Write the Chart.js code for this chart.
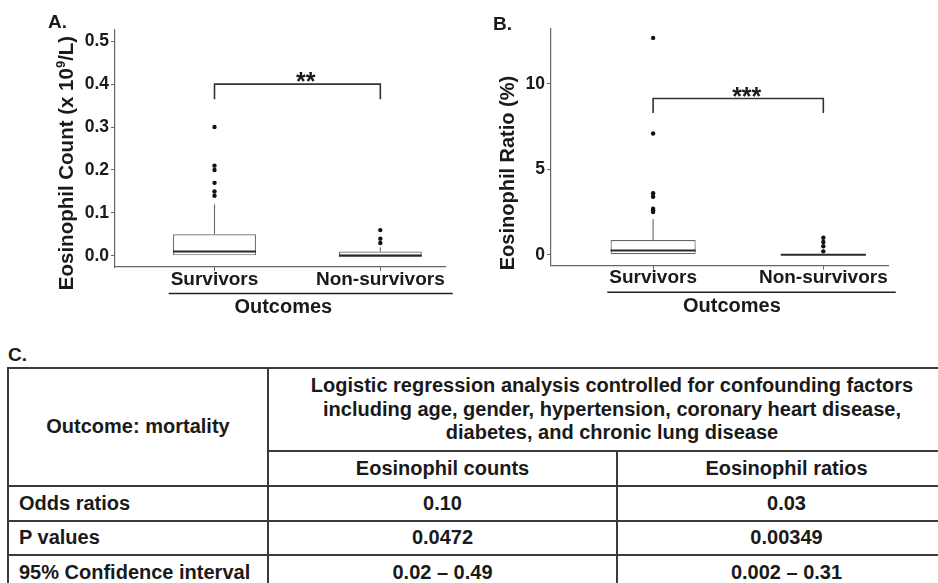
<!DOCTYPE html>
<html>
<head>
<meta charset="utf-8">
<script src="https://cdn.jsdelivr.net/npm/chart.js@4.4.1/dist/chart.umd.min.js"></script>
<style>
  html, body { margin: 0; padding: 0; background: #fff; overflow: hidden; }
  #wrap { position: relative; width: 938px; height: 583px; overflow: hidden;
          font-family: "Liberation Sans", Arial, sans-serif; color: #1a1a1a; }
  #boxA { position: absolute; left: 0; top: 0; }
  #boxB { position: absolute; left: 470px; top: 0; }
  .panel { position: absolute; font-weight: bold; font-size: 19px; line-height: 20px; }
  #tbl { position: absolute; left: 7px; top: 367px; width: 948px; border-collapse: collapse;
         table-layout: fixed; font-weight: bold; font-size: 20px; line-height: 23.5px; }
  #tbl td { border: 2px solid #3a3a3a; padding: 0 10px; text-align: center; vertical-align: middle; }
  #tbl td.rowhead { text-align: left; }
</style>
</head>
<body>
<div id="wrap">
  <canvas id="boxA" width="465" height="330"></canvas>
  <canvas id="boxB" width="468" height="330"></canvas>
  <div class="panel" style="left:48px; top:12px;">A.</div>
  <div class="panel" style="left:493px; top:14px;">B.</div>
  <div class="panel" style="left:8px; top:345px;">C.</div>
  <table id="tbl"></table>
</div>
<script>
// ---- groups on the x axis ----
const outcomeGroups = ['Survivors', 'Non-survivors'];

// ---- panel A: eosinophil count (x 10^9/L) ----
const countQ1 = [0.0, 0.0];
const countMedian = [0.01, 0.0];
const countQ3 = [0.05, 0.01];
const countWhiskerLow = [0.0, 0.0];
const countWhiskerHigh = [0.12, 0.02];
const countOutliersSurvivors = [0.30, 0.21, 0.20, 0.17, 0.15, 0.14];
const countOutliersNonSurvivors = [0.06, 0.04, 0.03];
const countTicks = [0.0, 0.1, 0.2, 0.3, 0.4, 0.5];
const countBracket = { top: 0.40, bottom: 0.365, label: '**' };

// ---- panel B: eosinophil ratio (%) ----
const ratioQ1 = [0.0, 0.0];
const ratioMedian = [0.25, 0.0];
const ratioQ3 = [0.86, 0.0];
const ratioWhiskerLow = [0.0, 0.0];
const ratioWhiskerHigh = [2.1, 0.0];
const ratioOutliersSurvivors = [12.7, 7.1, 3.6, 3.4, 2.7, 2.6, 2.5];
const ratioOutliersNonSurvivors = [1.0, 0.75, 0.5, 0.2];
const ratioTicks = [0, 5, 10];
const ratioBracket = { top: 9.15, bottom: 8.3, label: '***' };

// ---- panel C: logistic regression table ----
const tableOutcome = 'Outcome: mortality';
const tableHeaderLines = [
  'Logistic regression analysis controlled for confounding factors',
  'including age, gender, hypertension, coronary heart disease,',
  'diabetes, and chronic lung disease'
];
const tableColumns = ['Eosinophil counts', 'Eosinophil ratios'];
const tableRowLabels = ['Odds ratios', 'P values', '95% Confidence interval'];
const countResults = ['0.10', '0.0472', '0.02 \u2013 0.49'];
const ratioResults = ['0.03', '0.00349', '0.002 \u2013 0.31'];

const FONT = '"Liberation Sans", Arial, sans-serif';
const INK = '#1a1a1a';
const AXIS = '#666';
Chart.defaults.font.family = FONT;
Chart.defaults.color = INK;

// medians, whiskers, significance bracket, axis titles and the group rule
const boxExtras = {
  id: 'boxExtras',
  afterDatasetsDraw(chart, args, o) {
    const { ctx } = chart;
    const x = chart.scales.x, y = chart.scales.y;
    const boxes = chart.getDatasetMeta(0).data;
    ctx.save();
    ctx.lineCap = 'butt';
    o.median.forEach((m, i) => {
      const px = x.getPixelForValue(i + 1);
      ctx.strokeStyle = AXIS;
      ctx.lineWidth = 1.1;
      ctx.beginPath();
      ctx.moveTo(px, y.getPixelForValue(o.q3[i]));
      ctx.lineTo(px, y.getPixelForValue(o.hi[i]));
      ctx.moveTo(px, y.getPixelForValue(o.q1[i]));
      ctx.lineTo(px, y.getPixelForValue(o.lo[i]));
      ctx.stroke();
      const half = boxes[i].width / 2;
      ctx.strokeStyle = '#2a2a2a';
      ctx.lineWidth = 2;
      ctx.beginPath();
      const my = y.getPixelForValue(m);
      ctx.moveTo(px - half, my);
      ctx.lineTo(px + half, my);
      ctx.stroke();
    });
    ctx.restore();
  },
  afterDraw(chart, args, o) {
    const { ctx, chartArea } = chart;
    const x = chart.scales.x, y = chart.scales.y;
    ctx.save();
    // significance bracket
    const x1 = x.getPixelForValue(1), x2 = x.getPixelForValue(2);
    const yt = y.getPixelForValue(o.bracket.top), yb = y.getPixelForValue(o.bracket.bottom);
    ctx.strokeStyle = '#333';
    ctx.lineWidth = 1.6;
    ctx.beginPath();
    ctx.moveTo(x1, yb); ctx.lineTo(x1, yt); ctx.lineTo(x2, yt); ctx.lineTo(x2, yb);
    ctx.stroke();
    ctx.fillStyle = INK;
    ctx.font = 'bold 25px ' + FONT;
    ctx.textAlign = 'center';
    ctx.textBaseline = 'alphabetic';
    ctx.fillText(o.bracket.label, x.getPixelForValue(1.55), yt + 6);

    // rule under the group labels, then the x title
    ctx.font = 'bold 19px ' + FONT;
    const w1 = ctx.measureText(outcomeGroups[0]).width;
    const w2 = ctx.measureText(outcomeGroups[1]).width;
    const ry = chartArea.bottom + 26.5;
    ctx.strokeStyle = '#222';
    ctx.lineWidth = 1.6;
    ctx.beginPath();
    ctx.moveTo(x1 - w1 / 2 - 2, ry);
    ctx.lineTo(x2 + w2 / 2 + 8, ry);
    ctx.stroke();
    ctx.font = 'bold 20px ' + FONT;
    ctx.textBaseline = 'middle';
    ctx.fillText('Outcomes', chartArea.left + o.xTitleFrac * (chartArea.right - chartArea.left), chartArea.bottom + 40.5);

    // rotated y title
    ctx.translate(o.yTitle.x, o.yTitle.y);
    ctx.rotate(-Math.PI / 2);
    let total = 0;
    o.yTitle.parts.forEach(p => { ctx.font = p.font; p.w = ctx.measureText(p.text).width; total += p.w; });
    let cx = -total / 2;
    ctx.textAlign = 'left';
    o.yTitle.parts.forEach(p => { ctx.font = p.font; ctx.fillText(p.text, cx, p.dy || 0); cx += p.w; });
    ctx.restore();
  }
};

function makeBoxChart(id, cfg) {
  const boxData = outcomeGroups.map((g, i) => ({ x: i + 1, y: [cfg.q1[i], cfg.q3[i]] }));
  const outlierData = [
    ...cfg.outSurv.map(v => ({ x: 1, y: v })),
    ...cfg.outNon.map(v => ({ x: 2, y: v }))
  ];
  return new Chart(document.getElementById(id), {
    type: 'bar',
    data: {
      datasets: [
        {
          type: 'bar',
          data: boxData,
          backgroundColor: '#ffffff',
          borderColor: AXIS,
          borderWidth: 1.2,
          borderSkipped: false,
          barPercentage: 0.5,
          categoryPercentage: 1,
          order: 2
        },
        {
          type: 'scatter',
          data: outlierData,
          pointRadius: 2.2,
          pointBackgroundColor: '#111',
          pointBorderWidth: 0,
          order: 1
        }
      ]
    },
    options: {
      responsive: false,
      devicePixelRatio: 1,
      animation: false,
      events: [],
      layout: { padding: { left: 0, top: cfg.top, right: cfg.right, bottom: 0 } },
      plugins: {
        legend: { display: false },
        tooltip: { enabled: false },
        boxExtras: {
          q1: cfg.q1, q3: cfg.q3, median: cfg.median, lo: cfg.lo, hi: cfg.hi,
          bracket: cfg.bracket, yTitle: cfg.yTitle, xTitleFrac: cfg.xTitleFrac
        }
      },
      scales: {
        x: {
          type: 'linear',
          offset: false,
          min: 0.4,
          max: cfg.xMax,
          grid: { display: true, offset: false, drawOnChartArea: false, drawTicks: true, tickLength: 4, color: AXIS },
          border: { display: true, color: AXIS, width: 1.2 },
          afterBuildTicks: s => { s.ticks = outcomeGroups.map((g, i) => ({ value: i + 1 })); },
          afterFit: s => { s.height = cfg.xHeight; },
          ticks: {
            autoSkip: false, maxRotation: 0, padding: -3,
            color: INK, font: { size: 19, weight: 'bold' },
            callback: v => outcomeGroups[Math.round(v) - 1]
          }
        },
        y: {
          min: cfg.yMin,
          max: cfg.yMax,
          grid: { display: true, drawOnChartArea: false, drawTicks: true, tickLength: 4, color: AXIS },
          border: { display: true, color: AXIS, width: 1.2 },
          afterBuildTicks: s => { s.ticks = cfg.ticks.map(v => ({ value: v })); },
          afterFit: s => { s.width = cfg.yWidth; },
          ticks: {
            autoSkip: false, padding: 2,
            color: INK, font: { size: 17.5, weight: 'bold' },
            callback: cfg.tickFmt
          }
        }
      }
    },
    plugins: [boxExtras]
  });
}

makeBoxChart('boxA', {
  q1: countQ1, q3: countQ3, median: countMedian, lo: countWhiskerLow, hi: countWhiskerHigh,
  outSurv: countOutliersSurvivors, outNon: countOutliersNonSurvivors,
  ticks: countTicks, tickFmt: v => Number(v).toFixed(1),
  yMin: -0.026, yMax: 0.526, xMax: 2.39,
  top: 30, right: 20, yWidth: 115, xHeight: 63,
  bracket: countBracket, xTitleFrac: 0.51,
  yTitle: {
    x: 67, y: 163,
    parts: [
      { text: 'Eosinophil Count (x 10', font: 'bold 20.5px ' + FONT },
      { text: '9', font: 'bold 13px ' + FONT, dy: -6 },
      { text: '/L)', font: 'bold 20.5px ' + FONT }
    ]
  }
});

makeBoxChart('boxB', {
  q1: ratioQ1, q3: ratioQ3, median: ratioMedian, lo: ratioWhiskerLow, hi: ratioWhiskerHigh,
  outSurv: ratioOutliersSurvivors, outNon: ratioOutliersNonSurvivors,
  ticks: ratioTicks, tickFmt: v => String(v),
  yMin: -0.64, yMax: 13.22, xMax: 2.38,
  top: 29, right: 50, yWidth: 81, xHeight: 64.3,
  bracket: ratioBracket, xTitleFrac: 0.537,
  yTitle: {
    x: 38, y: 173,
    parts: [{ text: 'Eosinophil Ratio (%)', font: 'bold 20px ' + FONT }]
  }
});

// table C built from the arrays above
(function buildTable() {
  const t = document.getElementById('tbl');
  let html = '<colgroup><col style="width:260px"><col style="width:349px"><col style="width:339px"></colgroup>';
  html += '<tr style="height:83px"><td rowspan="2">' + tableOutcome + '</td><td colspan="2">' +
          tableHeaderLines.join('<br>') + '</td></tr>';
  html += '<tr style="height:35px">' + tableColumns.map(c => '<td>' + c + '</td>').join('') + '</tr>';
  const heights = [34.7, 34.3, 35];
  tableRowLabels.forEach((r, i) => {
    html += '<tr style="height:' + heights[i] + 'px"><td class="rowhead">' + r + '</td><td>' +
            countResults[i] + '</td><td>' + ratioResults[i] + '</td></tr>';
  });
  t.innerHTML = html;
})();
</script>
</body>
</html>
